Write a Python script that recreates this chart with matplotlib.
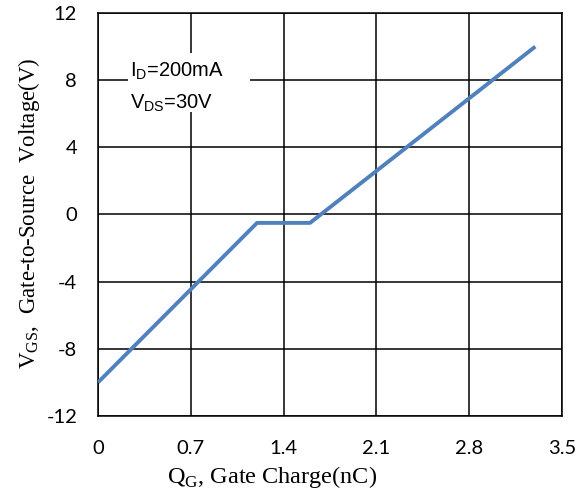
import matplotlib
matplotlib.use("Agg")
import matplotlib.pyplot as plt
from matplotlib.patches import Rectangle

# gate charge curve (nC, V)
qg = [0, 1.2, 1.6, 3.3]
vgs = [-10, -0.5, -0.5, 10]

x_ticks = [0, 0.7, 1.4, 2.1, 2.8, 3.5]
y_ticks = [-12, -8, -4, 0, 4, 8, 12]

plt.rcParams['mathtext.fontset'] = 'custom'
plt.rcParams['mathtext.rm'] = 'Liberation Serif'
plt.rcParams['mathtext.sf'] = 'Liberation Sans'

fig = plt.figure(figsize=(5.78, 4.96), dpi=100)
ax = fig.add_axes([0.1696, 0.1613, 0.8024, 0.8125])

ax.plot(qg, vgs, color='#4F81BD', linewidth=2.8, solid_capstyle='butt', zorder=4)

ax.set_xlim(0, 3.5)
ax.set_ylim(-12, 12)
ax.set_xticks(x_ticks)
ax.set_yticks(y_ticks)
ax.set_xticklabels([f"{t:g}" for t in x_ticks], fontfamily='Lato', fontsize=14.5)
ax.set_yticklabels([f"{t:g}" for t in y_ticks], fontfamily='Lato', fontsize=14.5)
ax.tick_params(axis='x', length=0, pad=17)
ax.tick_params(axis='y', length=0, pad=15)

ax.grid(True, color='black', linewidth=1.1)
ax.set_axisbelow(True)
for s in ax.spines.values():
    s.set_color('black')
    s.set_linewidth(1.1)

# white box behind the test condition text
ax.add_patch(Rectangle((0.226, 6.1), 0.92, 3.52, facecolor='white', edgecolor='none', zorder=2))
ax.text(0.24, 8.19, r'I$_\mathsf{D}$=200mA', fontfamily='Liberation Sans', fontsize=14.5,
        va='baseline', ha='left', zorder=3)
ax.text(0.24, 6.28, r'V$_\mathsf{DS}$=30V', fontfamily='Liberation Sans', fontsize=14.5,
        va='baseline', ha='left', zorder=3)

fig.text(272 / 578, 13 / 496, r'Q$_\mathrm{G}$, Gate Charge(nC)', fontfamily='Liberation Serif',
         fontsize=17.5, ha='center', va='baseline')
fig.text(29 / 578, 0.5706, r'V$_\mathrm{GS}$,  Gate-to-Source  Voltage(V)', fontfamily='Liberation Serif',
         fontsize=16.5, rotation=90, ha='center', va='center')

fig.savefig('out.png', dpi=100)
